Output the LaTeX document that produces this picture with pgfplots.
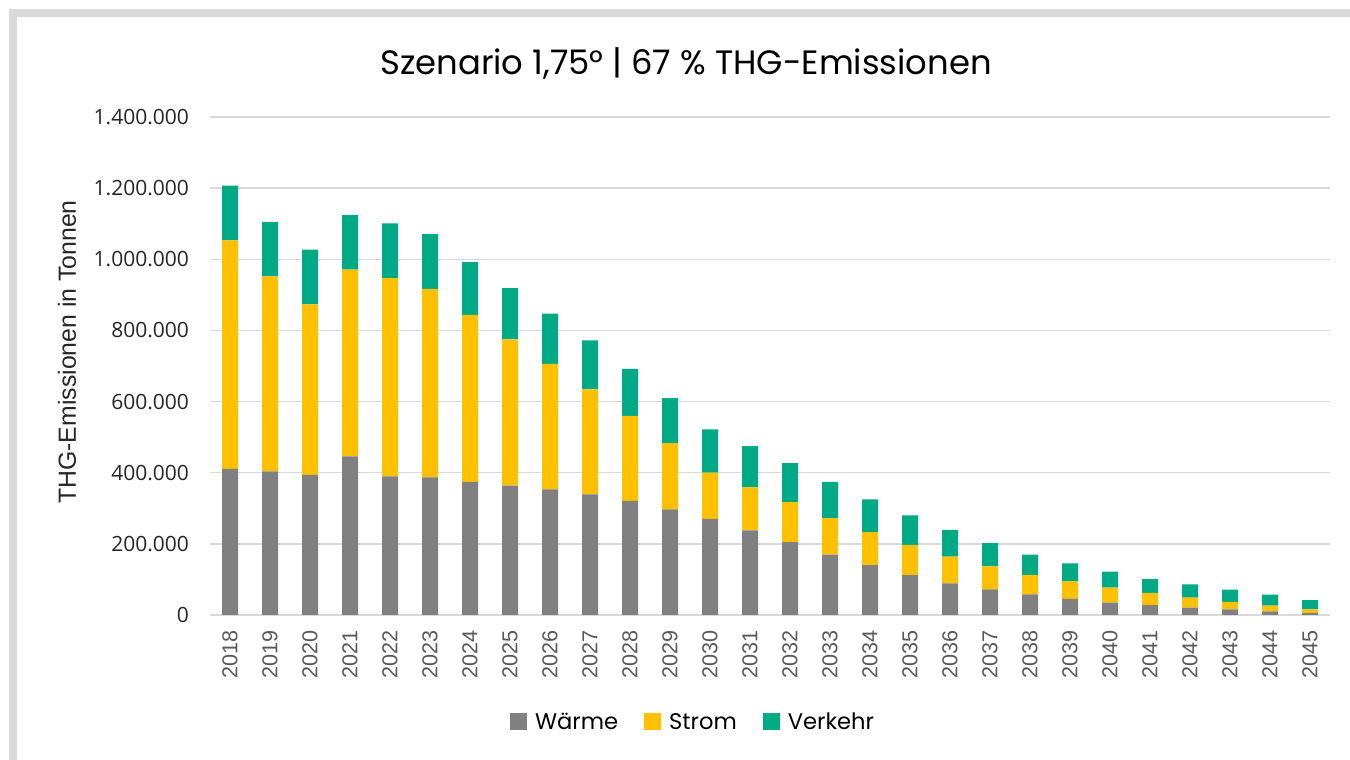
\documentclass[border=0pt]{standalone}
\usepackage{pgfplots}
\usepackage{pgfplotstable}
\pgfplotsset{compat=1.18}
\usepackage{fontspec}
\setmainfont{Poppins}
\newfontfamily\tickfont{Open Sans}
\newfontfamily\arialfont{Liberation Sans}
\definecolor{cW}{HTML}{808080}
\definecolor{cS}{HTML}{FFC000}
\definecolor{cV}{HTML}{00AA85}
\definecolor{gridgray}{HTML}{D9D9D9}
\definecolor{txtgray}{HTML}{595959}
\definecolor{txtdark}{HTML}{262626}
\pgfplotstableread{
year W S V
2018 411000 642000 154000
2019 404000 548000 153000
2020 394000 479000 154000
2021 446000 525000 154000
2022 390000 557000 154000
2023 387000 530000 154000
2024 374000 470000 148000
2025 364000 411000 144000
2026 353000 353000 141000
2027 339000 295000 138000
2028 321000 239000 132000
2029 297000 186000 127000
2030 270000 130000 122000
2031 238000 121000 116000
2032 205000 112000 110000
2033 170000 102000 102000
2034 140000 93000 92000
2035 112000 85000 83000
2036 89000 75000 75000
2037 72000 65000 65000
2038 58000 55000 57000
2039 45000 50000 50000
2040 35000 42000 45000
2041 28000 34000 39000
2042 21000 28000 37000
2043 16000 21000 34000
2044 10000 16000 31000
2045 6000 10000 26000
}\data
\begin{document}
\begin{tikzpicture}
\useasboundingbox (0,0) rectangle (675pt,380pt);
\fill[gridgray] (4.5pt,0) rectangle (8.5pt,375.5pt);
\fill[gridgray] (4.5pt,371.5pt) rectangle (675pt,375.5pt);
\node[anchor=base, font=\fontsize{16.9}{20}\selectfont, text=black] at (343pt,342.5pt) {Szenario 1,75° | 67 \% THG-Emissionen};
\node[rotate=90, font=\arialfont\fontsize{12.4}{14}\selectfont, text=txtdark] at (33.5pt,204pt) {THG-Emissionen in Tonnen};
\begin{axis}[
  at={(105pt,72.5pt)}, anchor=south west,
  width=560pt, height=249pt, scale only axis,
  ybar stacked, bar width=8pt,
  xmin=2017.5, xmax=2045.5,
  ymin=0, ymax=1400000,
  xtick={2018,...,2045},
  ytick={0,200000,...,1400000},
  scaled y ticks=false,
  major tick length=0pt,
  axis x line*=bottom, axis y line*=left,
  x axis line style={gridgray, line width=0.75pt, -},
  y axis line style={draw=none},
  ymajorgrids, major grid style={gridgray, line width=0.75pt},
  x tick label style={rotate=90, anchor=east, font=\arialfont\fontsize{10.8}{12}\selectfont, text=txtgray, /pgf/number format/.cd, 1000 sep={}, assume math mode=true},
  xticklabel shift=4pt,
  y tick label style={font=\tickfont\fontsize{10.5}{12}\selectfont, text=txtdark, /pgf/number format/.cd, fixed, precision=0, 1000 sep={.}, assume math mode=true},
  yticklabel shift=7pt,
  legend columns=3,
  legend style={at={(0.434,-0.2170)}, anchor=center, draw=none, fill=none,
    font=\fontsize{11.3}{13}\selectfont, column sep=0pt, inner sep=0pt,
    nodes={inner xsep=4pt, inner ysep=1pt},
    /tikz/every even column/.style={column sep=9pt}},
  legend image code/.code={\fill[#1] (0pt,-3.5pt) rectangle (8.5pt,5pt);},
]
\addplot[fill=cW, draw=none] table[x=year, y=W] {\data};
\addplot[fill=cS, draw=none] table[x=year, y=S] {\data};
\addplot[fill=cV, draw=none] table[x=year, y=V] {\data};
\legend{Wärme, Strom, Verkehr}
\end{axis}
\end{tikzpicture}
\end{document}
